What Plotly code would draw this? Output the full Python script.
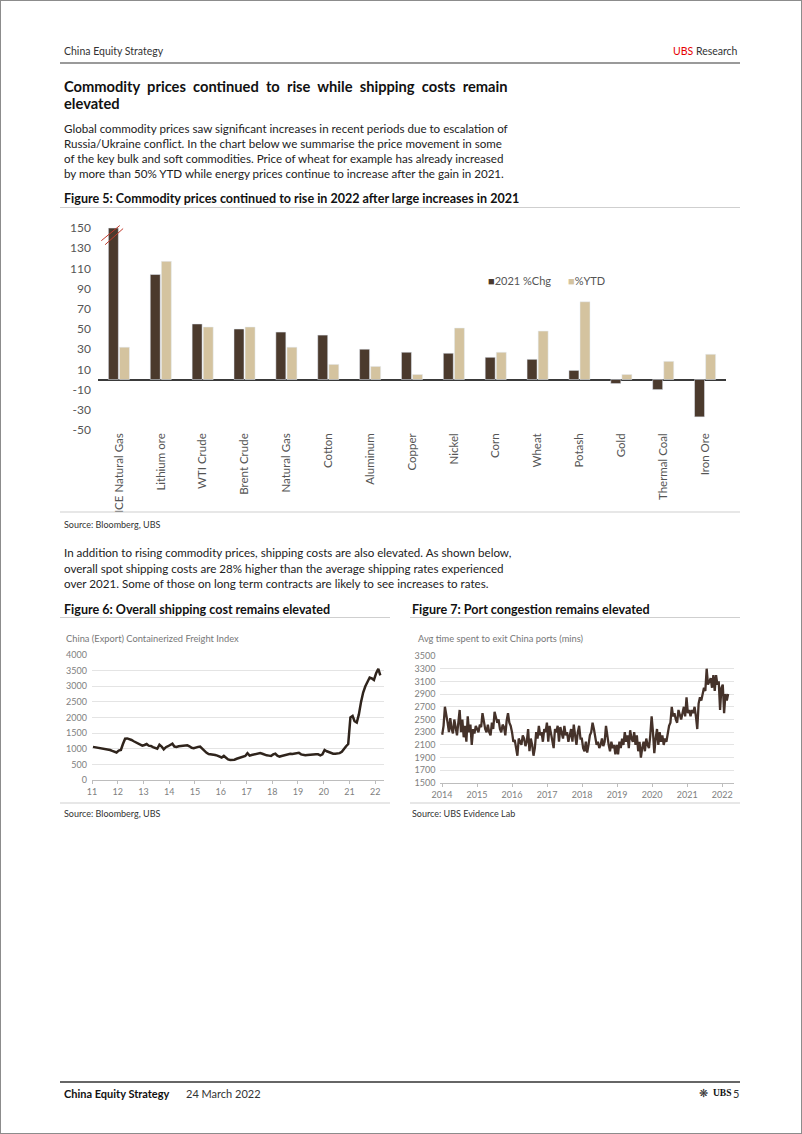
import pandas as pd
import plotly.graph_objects as go

W, H = 802, 1134
FONT = "Lato, 'Open Sans', sans-serif"

# ---------------- Data ----------------
commodities = ["ICE Natural Gas", "Lithium ore", "WTI Crude", "Brent Crude", "Natural Gas",
               "Cotton", "Aluminum", "Copper", "Nickel", "Corn", "Wheat", "Potash",
               "Gold", "Thermal Coal", "Iron Ore"]
chg_2021 = [150, 104, 55, 50, 47, 44, 30, 27, 26, 22, 20, 9, -4, -10, -37]
ytd_2022 = [32, 117, 52, 52, 32, 15, 13, 5, 51, 27, 48, 77, 5, 18, 25]
bar_ticks = [150, 130, 110, 90, 70, 50, 30, 10, -10, -30, -50]
bar_tick_text = ["150", "130", "110", "90", "70", "50", "30", "10", "-10", "-30", "-50"]

ccfi_2011 = [1060, 1050, 1030, 1010, 1000, 990, 1000, 980, 960, 930, 900, 880]
ccfi_2012 = [940, 960, 1150, 1320, 1330, 1310, 1280, 1240, 1200, 1170, 1130, 1100]
ccfi_2013 = [1120, 1150, 1100, 1090, 1050, 1020, 1000, 1130, 1070, 980, 1050, 1080]
ccfi_2014 = [1130, 1160, 1070, 1060, 1080, 1090, 1080, 1100, 1110, 1080, 1030, 1020]
ccfi_2015 = [1050, 1060, 1070, 1000, 950, 870, 830, 820, 830, 800, 780, 750]
ccfi_2016 = [720, 770, 710, 660, 640, 640, 650, 680, 700, 720, 740, 770]
ccfi_2017 = [860, 780, 800, 820, 840, 850, 860, 840, 810, 790, 780, 770]
ccfi_2018 = [820, 840, 780, 750, 770, 790, 810, 830, 840, 830, 840, 860]
ccfi_2019 = [870, 820, 800, 790, 800, 810, 800, 810, 820, 820, 790, 820]
ccfi_2020 = [960, 920, 890, 870, 840, 840, 850, 860, 900, 1000, 1080, 1150]
ccfi_2021 = [2000, 2050, 1880, 1840, 2100, 2500, 2800, 3000, 3150, 3280, 3250, 3200]
ccfi_2022 = [3420, 3560, 3350]
ccfi_years = ["11", "12", "13", "14", "15", "16", "17", "18", "19", "20", "21", "22"]

port_2014 = [2260, 2400, 2700, 2600, 2450, 2300, 2520, 2350, 2280, 2500, 2380, 2250, 2450,
             2650, 2300, 2500, 2220, 2400, 2150, 2550, 2300, 2420, 2100, 2350, 2280, 2400]
port_2015 = [2350, 2300, 2420, 2380, 2600, 2450, 2350, 2300, 2420, 2300, 2250, 2450, 2350,
             2620, 2550, 2450, 2500, 2350, 2300, 2420, 2380, 2250, 2480, 2600, 2450, 2400]
port_2016 = [2300, 2150, 2180, 2050, 1930, 2200, 2150, 2100, 2250, 2200, 2080, 2150, 2350,
             2000, 2200, 2100, 1930, 2050, 2300, 2200, 2400, 2250, 2300, 2150, 2350, 2300]
port_2017 = [2450, 2150, 2400, 2300, 2200, 2050, 2350, 2300, 2400, 2150, 2380, 2300, 2200,
             2400, 2250, 2300, 2150, 2250, 2350, 2150, 2420, 2250, 2100, 2300, 2400, 2200]
port_2018 = [2200, 2050, 2000, 2150, 1980, 2100, 2250, 2300, 2450, 2350, 2200, 2100, 2150,
             2050, 2100, 2200, 2080, 2150, 2400, 2200, 2100, 2000, 2150, 2050, 2100, 1950]
port_2019 = [2100, 1950, 2150, 2050, 2200, 2100, 2300, 2150, 2250, 2050, 2330, 2200, 2150,
             2300, 2100, 2250, 2000, 2150, 1900, 2050, 2150, 2000, 2200, 2100, 2050, 2250]
port_2020 = [2550, 2300, 1970, 2200, 2350, 2100, 2300, 2150, 2250, 2100, 2200, 2150, 2300,
             2400, 2450, 2700, 2550, 2600, 2500, 2450, 2650, 2550, 2500, 2600, 2700, 2550]
port_2021 = [2850, 2600, 2650, 2550, 2650, 2600, 2700, 2550, 2350, 2750, 2850, 2800, 2900,
             3000, 2950, 3300, 3050, 3100, 3150, 3000, 3200, 2950, 3200, 3050, 3100, 2650]
port_2022 = [3000, 3050, 2600, 2900, 2800, 2900]
port_years = ["2014", "2015", "2016", "2017", "2018", "2019", "2020", "2021", "2022"]

ccfi = (ccfi_2011 + ccfi_2012 + ccfi_2013 + ccfi_2014 + ccfi_2015 + ccfi_2016 + ccfi_2017
        + ccfi_2018 + ccfi_2019 + ccfi_2020 + ccfi_2021 + ccfi_2022)
ccfi_dates = pd.date_range("2011-01-01", periods=len(ccfi), freq="MS") + pd.Timedelta(days=14)
port = (port_2014 + port_2015 + port_2016 + port_2017 + port_2018 + port_2019 + port_2020
        + port_2021 + port_2022)
port_dates = pd.date_range("2014-01-03", periods=len(port), freq="14D")

DARK = "#4b3a2d"
TAN = "#d4c39f"


def px(x):
    return x / W


def py(y):
    return 1 - y / H


fig = go.Figure()

# Figure 5 bars
fig.add_trace(go.Bar(x=commodities, y=chg_2021, name="2021 %Chg", marker_color=DARK,
                     showlegend=False, xaxis="x", yaxis="y"))
fig.add_trace(go.Bar(x=commodities, y=ytd_2022, name="%YTD", marker_color=TAN,
                     showlegend=False, xaxis="x", yaxis="y"))

# Figure 6 line
fig.add_trace(go.Scatter(x=ccfi_dates, y=ccfi, mode="lines", line=dict(color="#2f241c", width=2.5),
                         showlegend=False, xaxis="x2", yaxis="y2"))
# Figure 7 line
fig.add_trace(go.Scatter(x=port_dates, y=port, mode="lines", line=dict(color="#45322a", width=2.3),
                         showlegend=False, xaxis="x3", yaxis="y3"))

tick_font_small = dict(family=FONT, size=9, color="#808080")

fig.update_layout(
    width=W, height=H,
    margin=dict(l=0, r=0, t=0, b=0, autoexpand=False),
    paper_bgcolor="white", plot_bgcolor="white",
    font=dict(family=FONT, color="#333"),
    barmode="group", bargap=0.47, bargroupgap=0.1,
    showlegend=False,
    xaxis=dict(domain=[px(98), px(726)], type="category", tickangle=-90,
               tickfont=dict(family=FONT, size=11.5, color="#555"), showgrid=False,
               showline=False, ticks="", anchor="y", automargin=False),
    yaxis=dict(domain=[py(430), py(223)], range=[-50, 155], tickvals=bar_ticks,
               ticktext=bar_tick_text,
               tickfont=dict(family=FONT, size=12, color="#555"), showgrid=False,
               zeroline=True, zerolinecolor="#3a3a3a", zerolinewidth=1.6,
               showline=False, ticks="", ticklabelstandoff=6, anchor="x", automargin=False),
    xaxis2=dict(domain=[px(92), px(383.6)], type="date", range=["2011-01-01", "2022-05-01"],
                tickvals=[f"20{y}-01-01" for y in ccfi_years], ticktext=ccfi_years,
                tickangle=0, showline=True, linecolor="#bdbdbd", linewidth=1,
                ticks="outside", ticklen=3, tickcolor="#bdbdbd", tickfont=tick_font_small,
                showgrid=False, anchor="y2", automargin=False),
    yaxis2=dict(domain=[py(780), py(655)], range=[0, 4000], tick0=0, dtick=500,
                gridcolor="#e4e4e4", gridwidth=1, zeroline=False, showline=False,
                tickfont=tick_font_small, ticklabelstandoff=4, anchor="x2", automargin=False),
    xaxis3=dict(domain=[px(440.4), px(733.7)], type="date", range=["2013-12-15", "2022-05-01"],
                tickvals=[f"{y}-01-01" for y in port_years], ticktext=port_years,
                tickangle=0, showline=True, linecolor="#bdbdbd", linewidth=1,
                ticks="outside", ticklen=3, tickcolor="#bdbdbd", tickfont=tick_font_small,
                showgrid=False, anchor="y3", automargin=False),
    yaxis3=dict(domain=[py(783), py(656)], range=[1500, 3500], tick0=1500, dtick=200,
                gridcolor="#e4e4e4", gridwidth=1, zeroline=False, showline=False,
                tickfont=tick_font_small, ticklabelstandoff=4, anchor="x3", automargin=False),
)

shapes = []


def hline(x0, x1, y, color, width):
    shapes.append(dict(type="line", xref="paper", yref="paper", x0=px(x0), x1=px(x1),
                       y0=py(y), y1=py(y), line=dict(color=color, width=width)))


hline(60, 740, 63, "#9a9a9a", 2)       # header
hline(60, 740, 207.5, "#cfcfcf", 1)    # fig 5 title rule
hline(60, 740, 512, "#cfcfcf", 1)      # fig 5 bottom
hline(60, 390, 617.5, "#cfcfcf", 1)    # fig 6 title rule
hline(410, 740, 617.5, "#cfcfcf", 1)   # fig 7 title rule
hline(60, 390, 803, "#cfcfcf", 1)      # fig 6 bottom
hline(410, 740, 803, "#cfcfcf", 1)     # fig 7 bottom
hline(60, 740, 1082, "#333333", 1.3)   # footer

# axis break marks on the truncated ICE Natural Gas bar
shapes.append(dict(type="line", xref="x", yref="y", x0=-0.42, y0=chg_2021[0] - 12.5,
                   x1=0.02, y1=chg_2021[0] + 2.5, line=dict(color="#c0392b", width=1)))
shapes.append(dict(type="line", xref="x", yref="y", x0=-0.33, y0=chg_2021[0] - 16.5,
                   x1=0.1, y1=chg_2021[0] - 0.5, line=dict(color="#c0392b", width=1)))

# page frame
shapes.append(dict(type="rect", xref="paper", yref="paper", x0=0, x1=1, y0=0, y1=1,
                   line=dict(color="#8c8c8c", width=2)))
fig.update_layout(shapes=shapes)

ann = []


def text(x, y, s, size, color="#222", bold=False, anchor="left", family=FONT):
    if bold:
        s = f"<b>{s}</b>"
    ann.append(dict(x=px(x), y=py(y), xref="paper", yref="paper", text=s, showarrow=False,
                    xanchor=anchor, yanchor="middle", align=anchor,
                    font=dict(family=family, size=size, color=color)))


# header
text(62, 51, "China Equity Strategy", 10.5, "#333")
text(740, 51, "<span style='color:#e60000'>UBS</span> Research", 10.5, "#333", anchor="right")

# heading
NB = "\u00a0"
h1 = "Commodity prices continued to rise while shipping costs remain".split()
text(62, 86, (" " + NB).join(h1), 14.7, "#111", bold=True)
text(62, 103, "elevated", 14.7, "#111", bold=True)

para1 = [
    "Global commodity prices saw significant increases in recent periods due to escalation of",
    "Russia/Ukraine conflict. In the chart below we summarise the price movement in some",
    "of the key bulk and soft commodities. Price of wheat for example has already increased",
    "by more than 50% YTD while energy prices continue to increase after the gain in 2021.",
]
for i, line in enumerate(para1):
    text(62, 129 + i * 14.7, line, 11.6, "#222")

text(62, 198, "Figure 5: Commodity prices continued to rise in 2022 after large increases in 2021",
     12.55, "#111", bold=True)

# legend for figure 5
text(486, 281, f"<span style='color:{DARK}'>\u25a0</span>2021 %Chg", 11, "#555")
text(566, 281, f"<span style='color:{TAN}'>\u25a0</span>%YTD", 11, "#555")

text(62, 524, "Source: Bloomberg, UBS", 9, "#333")

para2 = [
    "In addition to rising commodity prices, shipping costs are also elevated. As shown below,",
    "overall spot shipping costs are 28% higher than the average shipping rates experienced",
    "over 2021. Some of those on long term contracts are likely to see increases to rates.",
]
for i, line in enumerate(para2):
    text(62, 553 + i * 15, line, 11.6, "#222")

text(62, 609, "Figure 6: Overall shipping cost remains elevated", 12.55, "#111", bold=True)
text(410, 609, "Figure 7: Port congestion remains elevated", 12.55, "#111", bold=True)
text(64, 638, "China (Export) Containerized Freight Index", 9.3, "#777")
text(416, 638, "Avg time spent to exit China ports (mins)", 9.3, "#777")
text(62, 813, "Source: Bloomberg, UBS", 9, "#333")
text(410, 813, "Source: UBS Evidence Lab", 9, "#333")

# footer
text(62, 1093, "China Equity Strategy", 11, "#111", bold=True)
text(184, 1093, "24 March 2022", 11, "#333")
text(741, 1093, "5", 11, "#333", anchor="right")
text(711, 1093, "UBS", 9.5, "#111", bold=True, family="'Liberation Serif', serif")
text(710, 1093, "\u274b", 11, "#333", anchor="right", family="'DejaVu Sans'")

fig.update_layout(annotations=ann)
fig.write_html("out.html", config={"displayModeBar": False},
               post_script="document.body.style.margin='0px';document.body.style.overflow='hidden';")
